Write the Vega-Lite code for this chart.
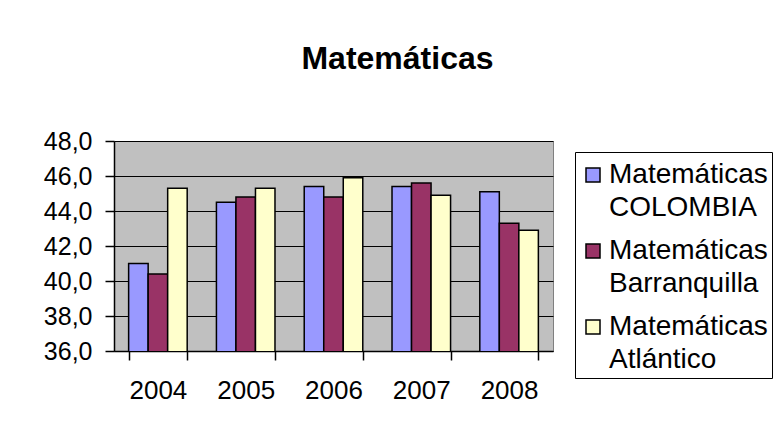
{
  "$schema": "https://vega.github.io/schema/vega-lite/v6.json",
  "autosize": {"type": "none"},
  "padding": {"left": 114, "top": 141, "right": 224, "bottom": 85},
  "width": 439,
  "height": 210,
  "background": "white",
  "title": {
    "text": "Matemáticas",
    "font": "Liberation Sans",
    "fontSize": 32,
    "fontWeight": "bold",
    "color": "black",
    "anchor": "middle",
    "dx": 64,
    "offset": 53
  },
  "data": {
    "values": [
      {"year": "2004", "serie": "Matemáticas COLOMBIA", "valor": 41.0},
      {"year": "2004", "serie": "Matemáticas Barranquilla", "valor": 40.4},
      {"year": "2004", "serie": "Matemáticas Atlántico", "valor": 45.3},
      {"year": "2005", "serie": "Matemáticas COLOMBIA", "valor": 44.5},
      {"year": "2005", "serie": "Matemáticas Barranquilla", "valor": 44.8},
      {"year": "2005", "serie": "Matemáticas Atlántico", "valor": 45.3},
      {"year": "2006", "serie": "Matemáticas COLOMBIA", "valor": 45.4},
      {"year": "2006", "serie": "Matemáticas Barranquilla", "valor": 44.8},
      {"year": "2006", "serie": "Matemáticas Atlántico", "valor": 45.9},
      {"year": "2007", "serie": "Matemáticas COLOMBIA", "valor": 45.4},
      {"year": "2007", "serie": "Matemáticas Barranquilla", "valor": 45.6},
      {"year": "2007", "serie": "Matemáticas Atlántico", "valor": 44.9},
      {"year": "2008", "serie": "Matemáticas COLOMBIA", "valor": 45.1},
      {"year": "2008", "serie": "Matemáticas Barranquilla", "valor": 43.3},
      {"year": "2008", "serie": "Matemáticas Atlántico", "valor": 42.9}
    ]
  },
  "mark": {"type": "bar", "stroke": "black", "strokeWidth": 1.5, "clip": true},
  "encoding": {
    "x": {
      "field": "year",
      "type": "nominal",
      "scale": {"paddingInner": 0.333, "paddingOuter": 0.1667},
      "axis": {
        "title": null,
        "labelAngle": 0,
        "tickBand": "extent",
        "domainColor": "black",
        "tickColor": "black",
        "tickSize": 9,
        "labelFont": "Liberation Sans",
        "labelFontSize": 26,
        "labelColor": "black",
        "labelPadding": 17
      }
    },
    "xOffset": {
      "field": "serie",
      "type": "nominal",
      "sort": ["Matemáticas COLOMBIA", "Matemáticas Barranquilla", "Matemáticas Atlántico"],
      "scale": {"paddingInner": 0, "paddingOuter": 0}
    },
    "y": {
      "field": "valor",
      "type": "quantitative",
      "scale": {"domain": [36, 48], "zero": false, "nice": false},
      "axis": {
        "title": null,
        "values": [36, 38, 40, 42, 44, 46, 48],
        "labelExpr": "replace(format(datum.value, '.1f'), '.', ',')",
        "grid": true,
        "gridColor": "black",
        "gridOpacity": 1,
        "gridWidth": 1,
        "domainColor": "black",
        "tickColor": "black",
        "tickSize": 9,
        "labelFont": "Liberation Sans",
        "labelFontSize": 25,
        "labelColor": "black",
        "labelPadding": 13
      }
    },
    "color": {
      "field": "serie",
      "type": "nominal",
      "sort": ["Matemáticas COLOMBIA", "Matemáticas Barranquilla", "Matemáticas Atlántico"],
      "scale": {"range": ["#9999FF", "#993366", "#FFFFCC"]},
      "legend": {
        "title": " ",
        "titleFontSize": 1,
        "titlePadding": 4,
        "orient": "none",
        "legendX": 461,
        "legendY": 11,
        "strokeColor": "black",
        "fillColor": "white",
        "padding": 4,
        "symbolType": "square",
        "symbolSize": 196,
        "symbolStrokeColor": "black",
        "symbolStrokeWidth": 1.5,
        "symbolOpacity": 1,
        "labelExpr": "split(datum.label, ' ')",
        "labelFont": "Liberation Sans",
        "labelFontSize": 28,
        "labelColor": "black",
        "labelOffset": 2,
        "labelLimit": 300,
        "rowPadding": 15
      }
    }
  },
  "config": {
    "view": {"fill": "#C0C0C0", "stroke": "#808080", "strokeWidth": 1},
    "axis": {"domainWidth": 1.5, "tickWidth": 1.5},
    "style": {"guide-label": {"lineHeight": 33}}
  }
}
